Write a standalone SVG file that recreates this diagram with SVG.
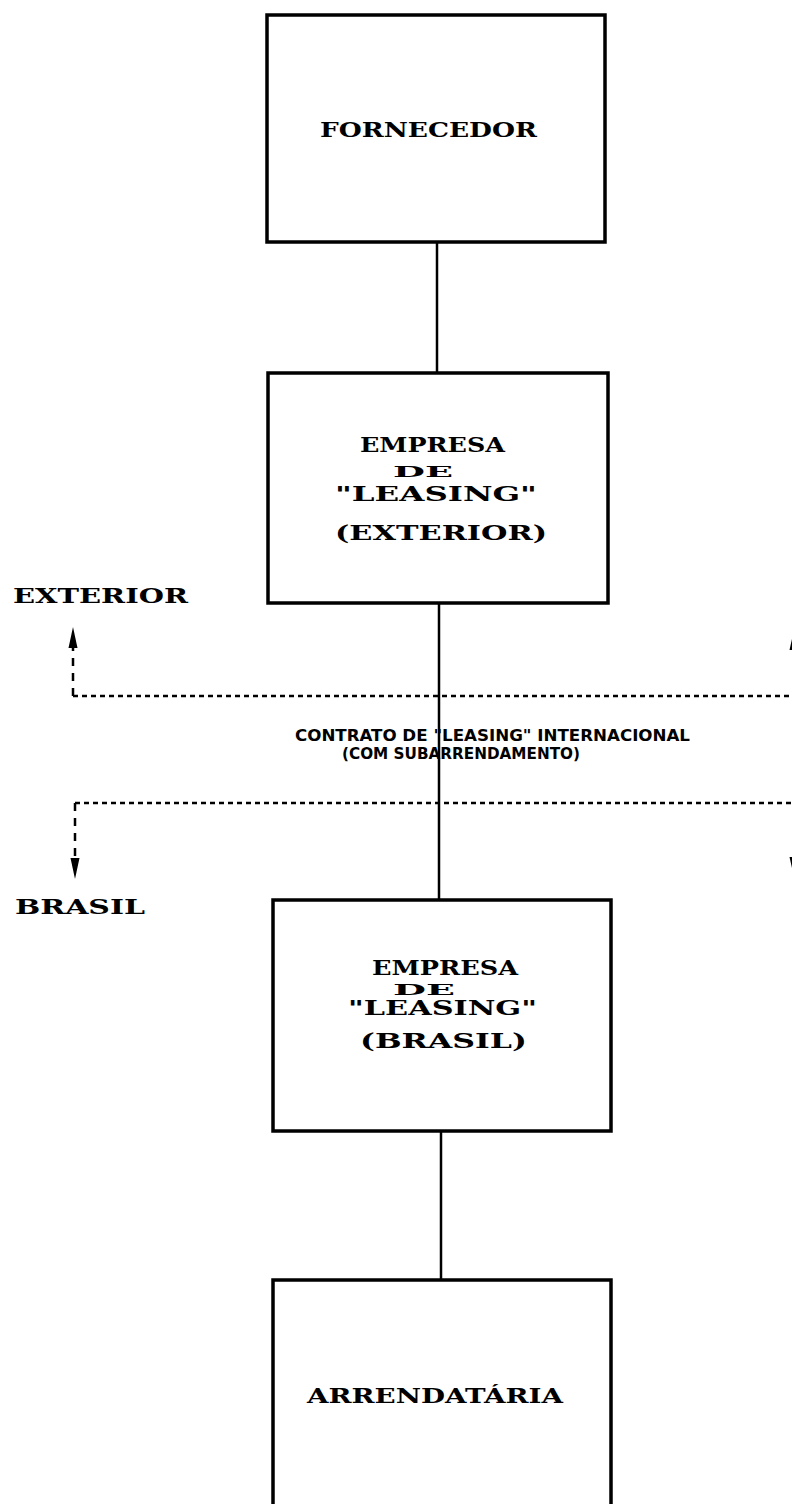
<svg xmlns="http://www.w3.org/2000/svg" width="792" height="1504" viewBox="0 0 792 1504">
<style>
.box{fill:#fff;stroke:#000;stroke-width:3.5}
.t{font-family:"DejaVu Serif","Liberation Serif",serif;font-weight:bold;font-size:21px;fill:#000}
.ts{font-family:"DejaVu Serif","Liberation Serif",serif;font-weight:bold;font-size:14px;fill:#000}
.c{font-family:"DejaVu Sans Condensed","Liberation Sans",sans-serif;font-weight:bold;font-size:15px;fill:#000}
.conn{stroke:#000;stroke-width:2.5;fill:none}
.dot{stroke:#000;stroke-width:2.5;fill:none;stroke-dasharray:5 4}
.dash{stroke:#000;stroke-width:2.5;fill:none;stroke-dasharray:8 7}
.ah{fill:#000}
</style>
<rect width="792" height="1504" fill="#fff"/>
<g id="connectors">
<line class="conn" x1="437" y1="242" x2="437" y2="373"/>
<line class="conn" x1="439" y1="603" x2="439" y2="900"/>
<line class="conn" x1="441" y1="1131" x2="441" y2="1280"/>
</g>
<g id="fornecedor">
<rect class="box" x="267" y="15" width="338" height="227"/>
<text class="t" x="320" y="137" textLength="217" lengthAdjust="spacingAndGlyphs">FORNECEDOR</text>
</g>
<g id="empresa-exterior">
<rect class="box" x="268" y="373" width="340" height="230"/>
<text class="t" x="360" y="452" textLength="145" lengthAdjust="spacingAndGlyphs">EMPRESA</text>
<text class="ts" x="393" y="477" textLength="60" lengthAdjust="spacingAndGlyphs">DE</text>
<text class="t" x="335" y="501" textLength="202" lengthAdjust="spacingAndGlyphs">"LEASING"</text>
<text class="t" x="335" y="540" textLength="212" lengthAdjust="spacingAndGlyphs">(EXTERIOR)</text>
</g>
<g id="empresa-brasil">
<rect class="box" x="273" y="900" width="338" height="231"/>
<text class="t" x="372" y="975" textLength="146" lengthAdjust="spacingAndGlyphs">EMPRESA</text>
<text class="ts" x="393" y="995" textLength="62" lengthAdjust="spacingAndGlyphs">DE</text>
<text class="t" x="348" y="1015" textLength="189" lengthAdjust="spacingAndGlyphs">"LEASING"</text>
<text class="t" x="360" y="1048" textLength="167" lengthAdjust="spacingAndGlyphs">(BRASIL)</text>
</g>
<g id="arrendataria">
<rect class="box" x="273" y="1280" width="338" height="240"/>
<text class="t" x="307" y="1403" textLength="256" lengthAdjust="spacingAndGlyphs">ARRENDATÁRIA</text>
</g>
<g id="fronteira">
<text class="t" x="13" y="603" textLength="175" lengthAdjust="spacingAndGlyphs">EXTERIOR</text>
<text class="t" x="15" y="914" textLength="130" lengthAdjust="spacingAndGlyphs">BRASIL</text>
<path class="dot" d="M73 696 H792"/>
<path class="dash" d="M73 696 V647"/>
<polygon class="ah" points="73,627 68.5,648 77.5,648"/>
<path class="dot" d="M75 803 H792"/>
<path class="dash" d="M75 803 V860"/>
<polygon class="ah" points="75,879 70.5,858 79.5,858"/>
<polygon class="ah" points="794,630 789.5,650 798.5,650"/>
<polygon class="ah" points="794,877 789.5,857 798.5,857"/>
<text class="c" x="295" y="741" textLength="395" lengthAdjust="spacingAndGlyphs">CONTRATO DE "LEASING" INTERNACIONAL</text>
<text class="c" x="342" y="759" textLength="238" lengthAdjust="spacingAndGlyphs">(COM SUBARRENDAMENTO)</text>
</g>
</svg>
